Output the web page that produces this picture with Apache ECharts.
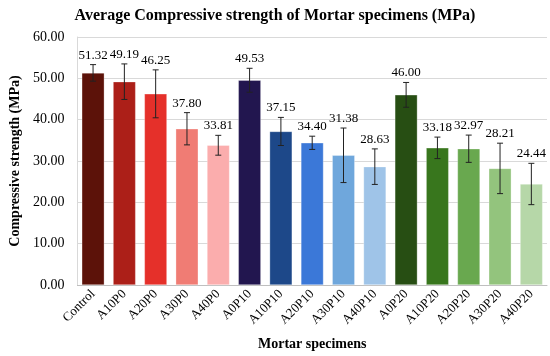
<!DOCTYPE html>
<html>
<head>
<meta charset="utf-8">
<script src="https://cdn.jsdelivr.net/npm/echarts@6/dist/echarts.min.js"></script>
<style>
html,body{margin:0;padding:0;background:#fff;}
#chart{width:550px;height:356px;}
</style>
</head>
<body>
<div id="chart"></div>
<script>
const categories = ['Control','A10P0','A20P0','A30P0','A40P0','A0P10','A10P10','A20P10','A30P10','A40P10','A0P20','A10P20','A20P20','A30P20','A40P20'];
const values = [51.32, 49.19, 46.25, 37.80, 33.81, 49.53, 37.15, 34.40, 31.38, 28.63, 46.00, 33.18, 32.97, 28.21, 24.44];
const errors = [2.0, 4.3, 5.8, 3.9, 2.4, 2.9, 3.4, 1.6, 6.6, 4.3, 3.0, 2.6, 3.3, 6.1, 5.0];
const yTicks = [0, 10, 20, 30, 40, 50, 60];
const colors = ['#5c1209','#ac1f18','#e5302a','#f07c74','#fbadad','#22164f','#1d4889','#3b78d8','#6fa7dc','#9fc4e8','#274e13','#38761d','#69a84f','#93c47d','#b6d7a8'];

const FONT = '"Liberation Serif","Times New Roman",serif';
const chart = echarts.init(document.getElementById('chart'), null, {renderer:'canvas'});

const barData = values.map((v, i) => ({value: v, itemStyle: {color: colors[i]}}));
const errData = values.map((v, i) => [i, v - errors[i], v + errors[i], v]);

chart.setOption({
  animation: false,
  title: {
    text: 'Average Compressive strength of Mortar specimens (MPa)',
    left: 'center', top: 3,
    textStyle: {fontFamily: FONT, fontWeight: 'bold', fontSize: 16, color: '#000'}
  },
  grid: {left: 68, right: 3, top: 37, bottom: 69},
  xAxis: {
    type: 'category',
    data: categories,
    name: 'Mortar specimens',
    nameLocation: 'middle',
    nameGap: 52,
    nameTextStyle: {fontFamily: FONT, fontWeight: 'bold', fontSize: 14, color: '#000'},
    axisLine: {lineStyle: {color: '#bfbfbf'}},
    axisTick: {show: false},
    axisLabel: {rotate: 45, fontFamily: FONT, fontSize: 13, color: '#000', margin: 7, interval: 0}
  },
  yAxis: {
    type: 'value',
    min: yTicks[0], max: yTicks[yTicks.length - 1], interval: 10,
    name: 'Compressive strength (MPa)',
    nameLocation: 'middle',
    nameGap: 52,
    nameTextStyle: {fontFamily: FONT, fontWeight: 'bold', fontSize: 14, color: '#000'},
    axisLine: {show: true, lineStyle: {color: '#d9d9d9'}},
    axisTick: {show: false},
    axisLabel: {fontFamily: FONT, fontSize: 14, color: '#000', margin: 13,
      formatter: v => v.toFixed(2)},
    splitLine: {lineStyle: {color: '#d9d9d9'}}
  },
  series: [
    {
      type: 'bar',
      data: barData,
      barWidth: '72%',
      itemStyle: {borderColor: 'rgba(255,255,255,0.6)', borderWidth: 0.5}
    },
    {
      type: 'custom',
      data: errData,
      z: 10,
      renderItem: function (params, api) {
        const i = api.value(0);
        const lo = api.coord([i, api.value(1)]);
        const hi = api.coord([i, api.value(2)]);
        const x = lo[0];
        const cap = 3;
        const style = {stroke: '#222', lineWidth: 1};
        return {
          type: 'group',
          children: [
            {type: 'line', shape: {x1: x, y1: lo[1], x2: x, y2: hi[1]}, style: style},
            {type: 'line', shape: {x1: x - cap, y1: lo[1], x2: x + cap, y2: lo[1]}, style: style},
            {type: 'line', shape: {x1: x - cap, y1: hi[1], x2: x + cap, y2: hi[1]}, style: style},
            {type: 'text', x: x, y: hi[1] - 3,
              style: {text: api.value(3).toFixed(2), textAlign: 'center', textVerticalAlign: 'bottom',
                font: '13px ' + FONT, fill: '#000'}}
          ]
        };
      }
    }
  ]
});
</script>
</body>
</html>
